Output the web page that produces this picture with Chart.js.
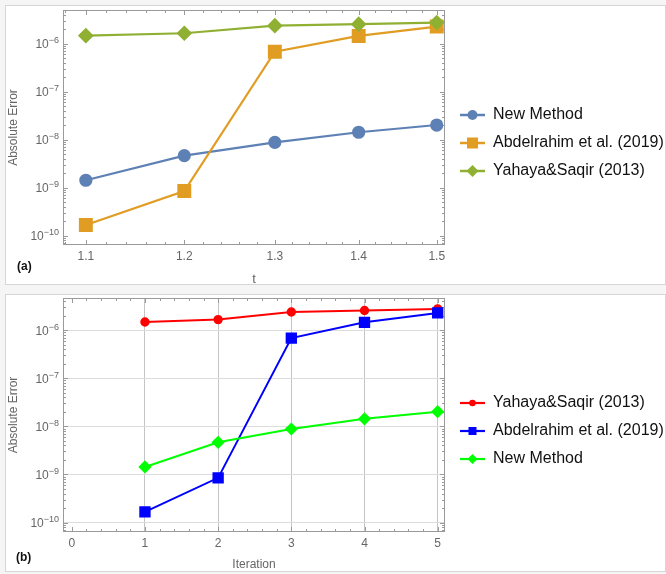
<!DOCTYPE html>
<html>
<head>
<meta charset="utf-8">
<script src="https://cdn.jsdelivr.net/npm/chart.js@4/dist/chart.umd.min.js"></script>
<style>
  body { margin: 0; background: #f5f5f5; width: 666px; height: 574px; overflow: hidden; font-family: "Liberation Sans", Arial, sans-serif; }
  .panel { position: absolute; left: 5px; width: 659px; background: #fff; border: 1px solid #d6d6d6; }
  .tag { position: absolute; font-weight: bold; font-size: 12px; color: #111; }
</style>
</head>
<body>
<div class="panel" style="top:5px;height:278px;"><canvas id="chartA" width="659" height="278"></canvas></div>
<div class="tag" style="left:17px;top:259px;">(a)</div>
<div class="panel" style="top:294px;height:276px;"><canvas id="chartB" width="659" height="276"></canvas></div>
<div class="tag" style="left:16px;top:550px;">(b)</div>
<script>
var tValues = [1.1, 1.2, 1.3, 1.4, 1.5];
var iterations = [1, 2, 3, 4, 5];
var newMethod = [1.43e-9, 4.65e-9, 8.8e-9, 1.43e-8, 2.02e-8];
var abdelrahim = [1.67e-10, 8.5e-10, 6.8e-7, 1.45e-6, 2.27e-6];
var yahaya = [1.47e-6, 1.65e-6, 2.37e-6, 2.55e-6, 2.75e-6];

var yTicks = [1e-10, 1e-9, 1e-8, 1e-7, 1e-6];
var yTickExps = ['\u221210', '\u22129', '\u22128', '\u22127', '\u22126'];
var tTicks = [1.1, 1.2, 1.3, 1.4, 1.5];
var iterTicks = [0, 1, 2, 3, 4, 5];

var FONT = '"Liberation Sans", Arial, sans-serif';
var GRAY = '#666';

function pairs(xs, ys) {
  return xs.map(function (x, i) { return { x: x, y: ys[i] }; });
}

// little line + marker picture for the legend
function makeIcon(color, shape, size, lw) {
  var c = document.createElement('canvas');
  c.width = 34; c.height = 16;
  var ctx = c.getContext('2d');
  ctx.strokeStyle = color; ctx.fillStyle = color; ctx.lineWidth = lw;
  ctx.beginPath(); ctx.moveTo(6, 8); ctx.lineTo(31, 8); ctx.stroke();
  var cx = 18.5, cy = 8;
  ctx.beginPath();
  if (shape == 'circle') {
    ctx.arc(cx, cy, size, 0, Math.PI * 2);
  } else if (shape == 'rect') {
    ctx.rect(cx - size, cy - size, size * 2, size * 2);
  } else {
    ctx.moveTo(cx, cy - size); ctx.lineTo(cx + size, cy); ctx.lineTo(cx, cy + size); ctx.lineTo(cx - size, cy);
    ctx.closePath();
  }
  ctx.fill();
  return c;
}

var frameTicks = {
  id: 'frameTicks',
  beforeDatasetsDraw: function (chart, args, opts) {
    var a = chart.chartArea, ctx = chart.ctx;
    var xs = chart.scales.x, ys = chart.scales.y;
    ctx.save();
    ctx.strokeStyle = '#9a9a9a';
    ctx.lineWidth = 1;
    ctx.strokeRect(a.left + 0.5, a.top + 0.5, a.right - a.left - 1, a.bottom - a.top - 1);
    ctx.beginPath();
    // x ticks, top and bottom
    var step = opts.xMinor;
    for (var v = Math.ceil(xs.min / step) * step; v <= xs.max + 1e-9; v += step) {
      var val = Math.round(v * 1000) / 1000;
      var major = Math.abs(val / opts.xMajor - Math.round(val / opts.xMajor)) < 1e-6;
      var len = major ? 5 : 3;
      var px = Math.round(xs.getPixelForValue(val)) + 0.5;
      ctx.moveTo(px, a.bottom); ctx.lineTo(px, a.bottom - len);
      ctx.moveTo(px, a.top); ctx.lineTo(px, a.top + len);
    }
    // log y ticks, left and right
    var e0 = Math.floor(Math.log10(ys.min)), e1 = Math.ceil(Math.log10(ys.max));
    for (var e = e0; e <= e1; e++) {
      for (var m = 1; m <= 9; m++) {
        var y = m * Math.pow(10, e);
        if (y < ys.min || y > ys.max) continue;
        var l = m == 1 ? 5 : 3;
        var py = Math.round(ys.getPixelForValue(y)) + 0.5;
        ctx.moveTo(a.left, py); ctx.lineTo(a.left + l, py);
        ctx.moveTo(a.right, py); ctx.lineTo(a.right - l, py);
      }
    }
    ctx.stroke();
    ctx.restore();
  },
  afterDraw: function (chart) {
    // 10^n labels with a raised exponent
    var a = chart.chartArea, ctx = chart.ctx, ys = chart.scales.y;
    ctx.save();
    ctx.fillStyle = GRAY;
    ctx.textAlign = 'right';
    ctx.textBaseline = 'alphabetic';
    yTicks.forEach(function (v, i) {
      var py = ys.getPixelForValue(v);
      var right = a.left - 4;
      ctx.font = '9px ' + FONT;
      ctx.fillText(yTickExps[i], right, py - 0.5);
      var w = ctx.measureText(yTickExps[i]).width;
      ctx.font = '12px ' + FONT;
      ctx.fillText('10', right - w, py + 4.5);
    });
    ctx.restore();
  }
};

function legendOpts(icons) {
  return {
    position: 'right',
    maxWidth: 220,
    labels: {
      usePointStyle: true,
      pointStyleWidth: 28,
      padding: 12,
      color: '#111',
      font: { family: FONT, size: 16 },
      generateLabels: function (chart) {
        return chart.data.datasets.map(function (ds, i) {
          return { text: ds.label, pointStyle: icons[i], datasetIndex: i, hidden: false,
                   fillStyle: ds.borderColor, strokeStyle: 'rgba(0,0,0,0)', lineWidth: 0, fontColor: '#111' };
        });
      }
    }
  };
}

function yAxis(min, max, grid) {
  return {
    type: 'logarithmic',
    min: min, max: max,
    afterBuildTicks: function (s) { s.ticks = yTicks.map(function (v) { return { value: v }; }); },
    afterFit: function (s) { s.width = 57; },
    ticks: { display: false },
    grid: grid,
    border: { display: false },
    title: { display: true, text: 'Absolute Error', color: GRAY, font: { family: FONT, size: 12 }, padding: { top: 0, bottom: 0 } }
  };
}

// (a) log-log plot
var blueA = '#5E81B5', orangeA = '#E19C24', greenA = '#8FB032';
new Chart(document.getElementById('chartA'), {
  type: 'line',
  data: {
    datasets: [
      { label: 'New Method', data: pairs(tValues, newMethod), borderColor: blueA, backgroundColor: blueA,
        pointStyle: 'circle', pointRadius: 5.5, borderWidth: 2.2, order: 2 },
      { label: 'Abdelrahim et al. (2019)', data: pairs(tValues, abdelrahim), borderColor: orangeA, backgroundColor: orangeA,
        pointStyle: 'rect', pointRadius: 8.3, borderWidth: 2.2, order: 1 },
      { label: 'Yahaya&Saqir (2013)', data: pairs(tValues, yahaya), borderColor: greenA, backgroundColor: greenA,
        pointStyle: 'rectRot', pointRadius: 6.3, borderWidth: 2.2, order: 0 }
    ]
  },
  options: {
    responsive: false,
    animation: false,
    layout: { autoPadding: false, padding: { top: 4, bottom: 8, left: 0, right: 0 } },
    scales: {
      x: {
        type: 'logarithmic',
        min: 1.078, max: 1.511,
        afterBuildTicks: function (s) { s.ticks = tTicks.map(function (v) { return { value: v }; }); },
        afterFit: function (s) { s.height = 31; },
        ticks: { padding: 4, color: GRAY, font: { family: FONT, size: 12 },
                 callback: function (v) { return v.toFixed(1); } },
        grid: { display: false, drawTicks: false },
        border: { display: false },
        title: { display: true, text: 't', color: GRAY, font: { family: FONT, size: 13 }, padding: { top: 0, bottom: -11 } }
      },
      y: yAxis(6.4e-11, 5.03e-6, { display: false, drawTicks: false })
    },
    plugins: {
      legend: legendOpts([makeIcon(blueA, 'circle', 5, 2.5), makeIcon(orangeA, 'rect', 5.5, 2.5), makeIcon(greenA, 'diamond', 6, 2.5)]),
      tooltip: { enabled: false },
      frameTicks: { xMinor: 0.02, xMajor: 0.1 }
    }
  },
  plugins: [frameTicks]
});

// (b) against iteration
var red = '#FF0000', blue = '#0000FF', green = '#00FF00';
new Chart(document.getElementById('chartB'), {
  type: 'line',
  data: {
    datasets: [
      { label: 'Yahaya&Saqir (2013)', data: pairs(iterations, yahaya), borderColor: red, backgroundColor: red,
        pointStyle: 'circle', pointRadius: 3.7, borderWidth: 2, order: 2 },
      { label: 'Abdelrahim et al. (2019)', data: pairs(iterations, abdelrahim), borderColor: blue, backgroundColor: blue,
        pointStyle: 'rect', pointRadius: 6.6, borderWidth: 2, order: 1 },
      { label: 'New Method', data: pairs(iterations, newMethod), borderColor: green, backgroundColor: green,
        pointStyle: 'rectRot', pointRadius: 5.2, borderWidth: 2, order: 0 }
    ]
  },
  options: {
    responsive: false,
    animation: false,
    layout: { autoPadding: false, padding: { top: 3, bottom: 7, left: 0, right: 0 } },
    scales: {
      x: {
        type: 'linear',
        min: -0.12, max: 5.1,
        afterBuildTicks: function (s) { s.ticks = iterTicks.map(function (v) { return { value: v }; }); },
        afterFit: function (s) { s.height = 32; },
        ticks: { padding: 4, color: GRAY, font: { family: FONT, size: 12 } },
        grid: { drawTicks: false, lineWidth: 1,
                color: function (c) { return c.tick && c.tick.value === 0 ? 'rgba(0,0,0,0)' : '#c4c4c4'; } },
        border: { display: false },
        title: { display: true, text: 'Iteration', color: GRAY, font: { family: FONT, size: 12 }, padding: { top: 0, bottom: -8 } }
      },
      y: yAxis(6.37e-11, 4.64e-6, { drawTicks: false, color: '#dcdcdc', lineWidth: 1 })
    },
    plugins: {
      legend: legendOpts([makeIcon(red, 'circle', 3.3, 2.2), makeIcon(blue, 'rect', 4, 2.2), makeIcon(green, 'diamond', 5, 2.2)]),
      tooltip: { enabled: false },
      frameTicks: { xMinor: 0.2, xMajor: 1 }
    }
  },
  plugins: [frameTicks]
});
</script>
</body>
</html>
